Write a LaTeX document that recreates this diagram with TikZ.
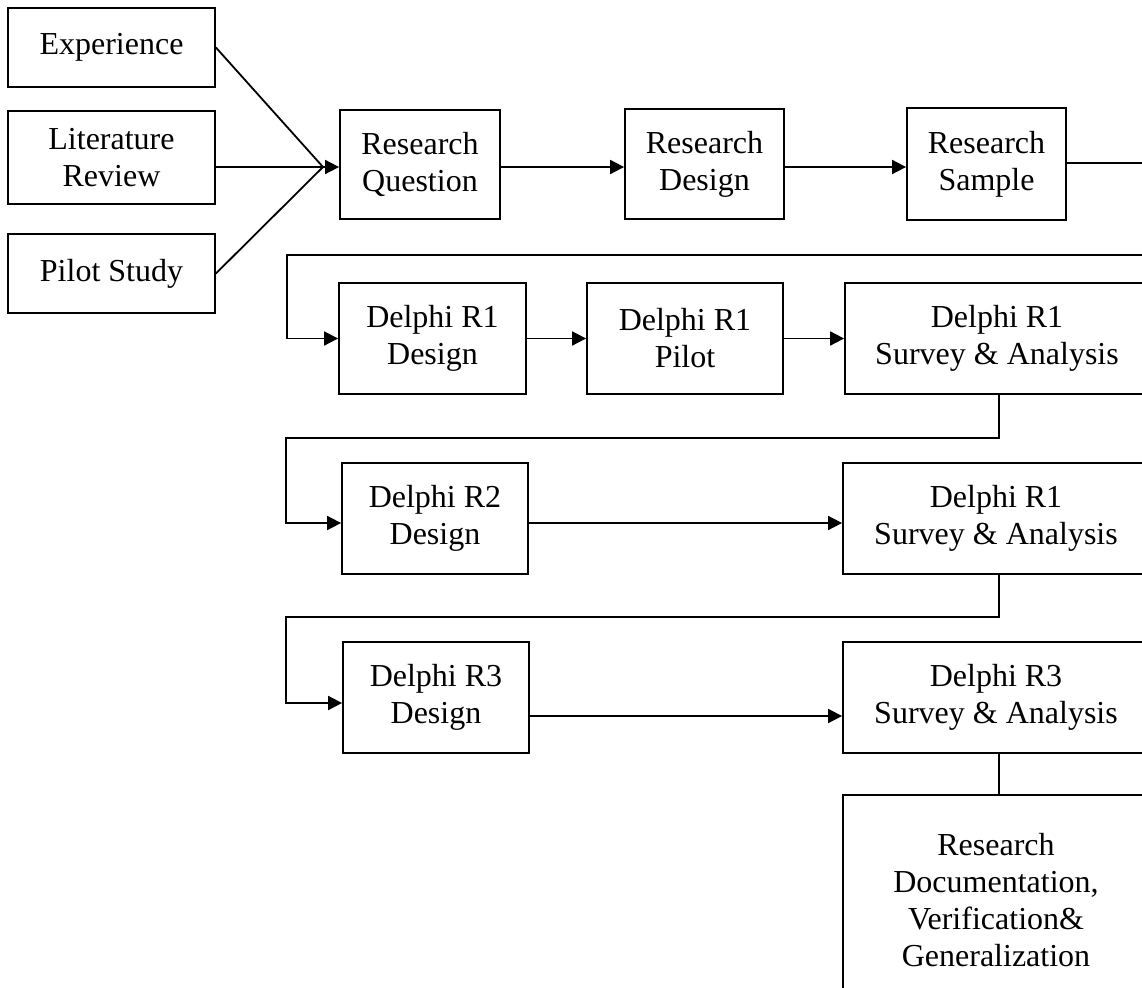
\documentclass[tikz,border=0pt]{standalone}
\usepackage{fontspec}
\setmainfont{Liberation Serif}
\usetikzlibrary{arrows.meta}
\tikzset{
  box/.style={draw, line width=1.8pt, inner sep=0pt, align=center,
    font=\fontsize{32}{37}\selectfont},
  link/.style={line width=1.8pt},
  arr/.style={link, -{Triangle[length=14pt,width=14pt]}}
}
\begin{document}
\begin{tikzpicture}[x=1pt,y=-1pt]
\useasboundingbox (0,0) rectangle (1142,987);
\clip (0,0) rectangle (1142,987);

% inputs
\node[box, minimum width=207pt, minimum height=79pt] (exp) at (111.5,47.5) {Experience};
\node[box, minimum width=207pt, minimum height=93pt] (lit) at (111.5,157.5) {Literature\\Review};
\node[box, minimum width=207pt, minimum height=79pt] (pil) at (111.5,273.5) {Pilot Study};

% research preparation
\node[box, minimum width=160pt, minimum height=109pt] (rq) at (420,164.5) {Research\\Question};
\node[box, minimum width=159pt, minimum height=110pt] (rd) at (704.5,164) {Research\\Design};
\node[box, minimum width=159pt, minimum height=112pt] (rs) at (986.5,164) {Research\\Sample};

% Delphi round 1
\node[box, minimum width=187pt, minimum height=111pt] (d1d) at (432.5,338.5) {Delphi R1\\Design};
\node[box, minimum width=196pt, minimum height=111pt] (d1p) at (685,338.5) {Delphi R1\\Pilot};
\node[box, minimum width=304pt, minimum height=111pt] (d1s) at (997,338.5) {Delphi R1\\Survey \& Analysis};

% Delphi round 2
\node[box, minimum width=186pt, minimum height=111pt] (d2d) at (435,518.5) {Delphi R2\\Design};
\node[box, minimum width=306pt, minimum height=111pt] (d2s) at (996,518.5) {Delphi R1\\Survey \& Analysis};

% Delphi round 3
\node[box, minimum width=186pt, minimum height=111pt] (d3d) at (436,697.5) {Delphi R3\\Design};
\node[box, minimum width=306pt, minimum height=111pt] (d3s) at (996,697.5) {Delphi R3\\Survey \& Analysis};

% final stage
\node[box, minimum width=306pt, minimum height=210pt] (doc) at (996,900) {Research\\Documentation,\\Verification\&\\Generalization};

% converging inputs
\coordinate (join) at (323,167);
\draw[link] (exp.east) -- (join);
\draw[link] (lit.east |- join) -- (join);
\draw[link] (pil.east) -- (join);
\draw[arr] (join) -- (rq.west |- join);

% first row
\draw[arr] ([yshift=-2.5pt]rq.east) -- ([yshift=-2.5pt]rq.east -| rd.west);
\draw[arr] ([yshift=-3pt]rd.east) -- ([yshift=-3pt]rd.east -| rs.west);

% wrap to round 1
\coordinate (r1a) at (1160,163);
\coordinate (r1b) at (1160,255);
\coordinate (r1c) at (287,255);
\draw[arr] (rs.east |- r1a) -- (r1a) -- (r1b) -- (r1c) |- (d1d.west);

\draw[arr] (d1d.east) -- (d1p.west);
\draw[arr] (d1p.east) -- (d1s.west);

% wrap to round 2
\coordinate (r2a) at (999,438);
\coordinate (r2b) at (286,438);
\draw[arr] (d1s.south -| r2a) -- (r2a) -- (r2b) |- ([yshift=-4.5pt]d2d.west);
\draw[arr] ([yshift=-4.5pt]d2d.east) -- ([yshift=-4.5pt]d2s.west);

% wrap to round 3
\coordinate (r3a) at (999,617);
\coordinate (r3b) at (286,617);
\draw[arr] (d2s.south -| r3a) -- (r3a) -- (r3b) |- ([yshift=-5.5pt]d3d.west);
\draw[arr] ([yshift=-18.5pt]d3d.east) -- ([yshift=-18.5pt]d3s.west);

% to documentation
\draw[link] (d3s.south -| r3a) -- (doc.north -| r3a);
\end{tikzpicture}
\end{document}
